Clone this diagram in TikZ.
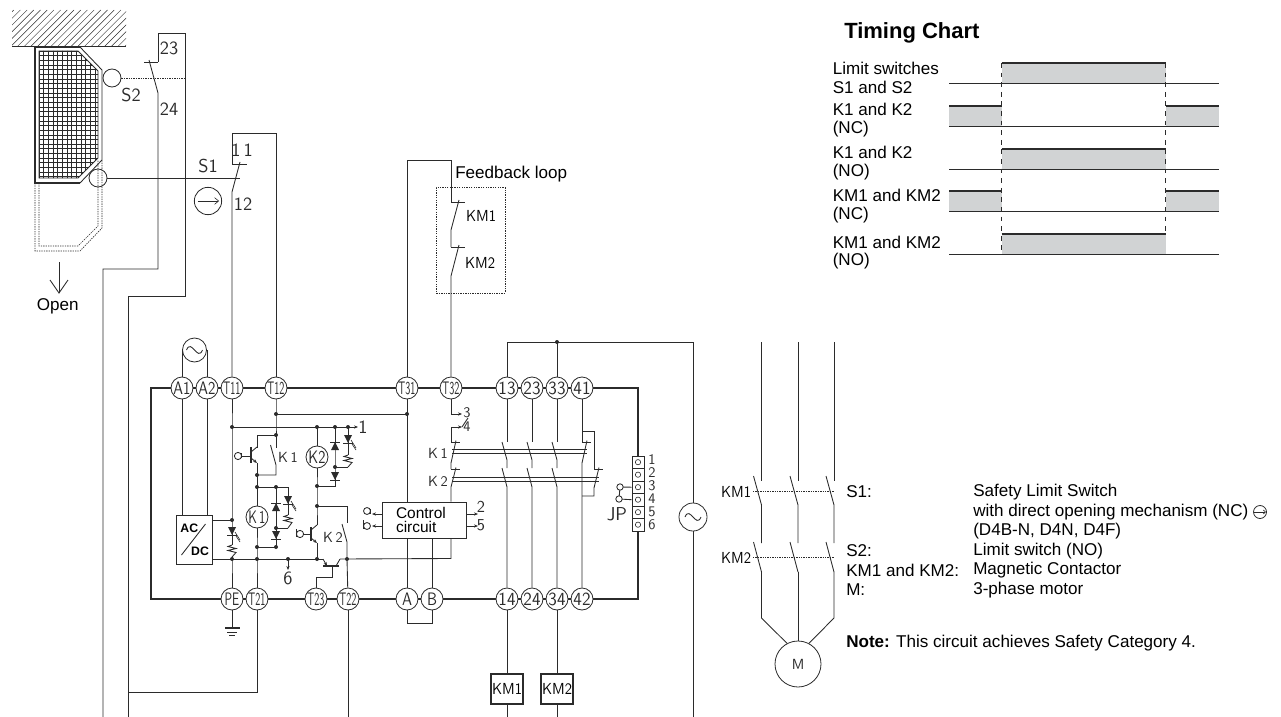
\documentclass[tikz,border=0pt]{standalone}
\usepackage{fontspec}
\setmainfont{Liberation Sans}
\usetikzlibrary{arrows.meta,calc}
\definecolor{ink}{HTML}{2b2b2b}
\definecolor{band}{HTML}{D1D3D4}
\tikzset{
  wire/.style={draw=ink,line width=0.65pt},
  frame/.style={draw=ink,line width=1.05pt},
  thin wire/.style={draw=ink,line width=0.45pt},
  hair/.style={draw=ink,line width=0.3pt},
  dotline/.style={draw=ink,line width=0.5pt,dash pattern=on 1pt off 0.8pt},
  term/.style={circle,draw=ink,fill=white,line width=0.6pt,minimum size=16.5pt,inner sep=0pt,font=\sffamily\fontsize{13}{13}\selectfont,text=ink},
  lab/.style={inner sep=0pt,font=\sffamily\fontsize{14}{14}\selectfont,text=ink},
  klab/.style={inner sep=0pt,font=\sffamily\fontsize{11}{11}\selectfont,text=ink},
  txt/.style={inner sep=0pt,anchor=west,font=\fontsize{12.8}{13}\selectfont,text=black},
  arr/.style={-{Stealth[length=3pt,width=2.4pt]}},
  coil/.style={circle,draw=ink,fill=white,line width=0.6pt,minimum size=16.5pt,inner sep=0pt,text=ink,font=\sffamily\fontsize{13}{13}\selectfont},
  level/.style={draw=ink,line width=0.6pt},
  top/.style={draw=ink,line width=1.5pt},
  guide/.style={draw=ink,line width=0.45pt,dash pattern=on 3.6pt off 3.6pt}
}
\newcommand{\kmtext}[1]{\resizebox{22.5pt}{8.3pt}{\sffamily #1}}
\newcommand{\jdot}[1]{\fill[ink] (#1) circle [radius=1.5pt];}
\newcommand{\diodeshape}[3]{\fill[ink] ({#1-4},{#2-4*#3}) -- ({#1+4},{#2-4*#3}) -- (#1,{#2+4*#3}) -- cycle; \draw[wire] ({#1-5},{#2+4*#3}) -- ({#1+5},{#2+4*#3});}
\newcommand{\ledtail}[2]{\draw[thin wire] ({#1+3},{#2+1}) -- ({#1+8},{#2+9}); \draw[thin wire] ({#1+4},{#2+5}) -- ({#1+8},{#2+11});}
\newcommand{\resist}[3]{\draw[wire] (#1,#2) -- ({#1-4},{#2+1.5}) -- ({#1+4},{#2+3.5}) -- ({#1-4},{#2+5.5}) -- ({#1+4},{#2+7.5}) -- (#1,#3);}
\newcommand{\sine}[2]{\draw[wire] ({#1-8},#2) .. controls ({#1-3},{#2-12}) and ({#1+3},{#2+12}) .. ({#1+8},#2);}
\begin{document}
\begin{tikzpicture}[x=0.75pt,y=-0.75pt]
\useasboundingbox (0,0) rectangle (1281,717);
% ---------- door and hatch
\begin{scope}
\clip (12,10) rectangle (126,47);
\foreach \i in {-30,-23.3,...,130}{\draw[hair,line width=0.35pt] (\i,47) -- ({\i+37},10);}
\end{scope}
\draw[frame] (12,46.5) -- (126,46.5);
\begin{scope}
\clip (39,51) -- (78,51) -- (98,71) -- (98,158) -- (78,178) -- (39,178) -- cycle;
\foreach \i in {0,...,13}{\draw[hair] ({39+4.65*\i},50) -- ({39+4.65*\i},180);}
\foreach \i in {0,...,27}{\draw[hair] (38,{51+4.65*\i}) -- (100,{51+4.65*\i});}
\end{scope}
\draw[wire] (39,51) -- (78,51) -- (98,71) -- (98,158) -- (78,178) -- (39,178) -- cycle;
\draw[frame] (80,47) -- (35,47) -- (35,183) -- (80,183);
\draw[wire] (80,47) -- (102,70) -- (102,160) -- (80,183);
\draw[dotline] (35,183) -- (35,251) -- (80,251) -- (102,228) -- (102,160);
\draw[dotline] (39,183) -- (39,246) -- (78,246) -- (98,226) -- (98,160);
\node[circle,draw=ink,line width=0.6pt,minimum size=13.5pt,inner sep=0pt] (s2c) at (112,78) {};
\node[circle,draw=ink,line width=0.6pt,minimum size=13.5pt,inner sep=0pt] (s1c) at (98,178) {};
\node[lab] (s2t) at (131,95) {S2};
\node[lab] (s1t) at (208,166) {S1};
\node[lab] (t23) at (169,48) {23};
\node[lab] (t24) at (169,109) {24};
\node[lab] (t11) at (242,150) {1\,1};
\node[lab] (t12) at (243,204) {12};
\node[circle,draw=ink,line width=0.6pt,minimum size=20.5pt,inner sep=0pt] (s1dir) at (208,201) {};
\draw[thin wire,-{Straight Barb[length=3pt,width=5pt]}] ($(s1dir.west)+(4,0)$) -- ($(s1dir.east)+(-3,0)$);
\coordinate (c23a) at (158,33); \coordinate (c23b) at (185,33); \coordinate (c23t) at (158,62);
\coordinate (c24) at (158,93); \coordinate (c11t) at (232,164); \coordinate (c12) at (232,192);
\draw[wire] (c23t) -- (c23a) -- (c23b) -- (185,296) -- (128,296) -- (128,717);
\draw[wire] (144,62) -- (c23t);
\draw[wire] (149,60) -- (c24) -- (158,269) -- (103,269) -- (103,717);
\draw[dotline] (s2c.east) -- (185,78);
\draw[wire] (s1c.east) -- (240,178);
% open arrow
\node[txt] (open) at (36.5,306) {Open};
\coordinate (oa) at (59,262); \coordinate (ob) at (59,293);
\draw[wire] (oa) -- (ob); \draw[wire] (50,280) -- (ob) -- (68,280);
% ---------- main frame
\foreach \n/\x/\l/\w in {A1/182/A1/12.8,A2/207/A2/12.8,T11/232/T11/12.8,T12/276/T12/12.8,T31/407/T31/12.8,T32/451/T32/12.8,P13/507/13/12.8,P23/532/23/12.8,P33/557/33/12.8,P41/582/41/12.8}
  {\node[term] (\n) at (\x,388) {\resizebox{\w pt}{9.4pt}{\l}};}
\foreach \n/\x/\l/\w in {PE/232/PE/11,T21/257/T21/12.8,T23/316/T23/12.8,T22/348/T22/12.8,A/407/A/7.5,B/432/B/7.5,P14/507/14/12.8,P24/532/24/12.8,P34/557/34/12.8,P42/582/42/12.8}
  {\node[term] (\n) at (\x,599) {\resizebox{\w pt}{9.4pt}{\l}};}
\coordinate (frNW) at (151,388); \coordinate (frNE) at (638,388);
\coordinate (frSW) at (151,599); \coordinate (frSE) at (638,599);
\foreach \i/\yy in {1/462.2,2/474.7,3/487.2,4/499.7,5/512.2,6/524.7}{
  \node[draw=ink,line width=0.6pt,minimum width=9pt,minimum height=9.4pt,inner sep=0pt,fill=white] (jpc\i) at (638,\yy) {};
  \draw[thin wire] (638,\yy) circle [radius=2pt];
}
\draw[frame] (jpc1.north) -- (frNE) -- (P41);
\draw[frame] (P41) -- (P33); \draw[frame] (P33) -- (P23); \draw[frame] (P23) -- (P13);
\draw[frame] (P13) -- (T32); \draw[frame] (T32) -- (T31); \draw[frame] (T31) -- (T12);
\draw[frame] (T12) -- (T11); \draw[frame] (T11) -- (A2); \draw[frame] (A2) -- (A1);
\draw[frame] (A1) -- (frNW) -- (frSW) -- (PE);
\draw[frame] (PE) -- (T21); \draw[frame] (T21) -- (T23); \draw[frame] (T23) -- (T22); \draw[frame] (T22) -- (A);
\draw[frame] (A) -- (B); \draw[frame] (B) -- (P14); \draw[frame] (P14) -- (P24); \draw[frame] (P24) -- (P34);
\draw[frame] (P34) -- (P42); \draw[frame] (P42) -- (frSE) -- (jpc6.south);
% supply to A1/A2
\node[circle,draw=ink,line width=0.6pt,minimum size=18pt,inner sep=0pt] (src1) at (194.5,350) {};
\sine{194.5}{350}
\draw[wire] (A1) |- (src1.west);
\draw[wire] (A2) |- (src1.east);
% S1 wiring
\draw[wire] (c11t) -- (232,133) coordinate (c11a) -- (276,133) coordinate (c11b) -- (T12);
\draw[wire] (c11t) -- (247,164);
\draw[wire] (240,162) -- (c12) -- (T11);
% feedback
\node[draw=ink,dash pattern=on 1pt off 0.8pt,line width=0.5pt,minimum width=51.4pt,minimum height=79pt,inner sep=0pt] (fb) at (470.7,240.2) {};
\node[txt] (fbt) at (455,174) {Feedback loop};
\node[inner sep=0pt] (km1t) at (481,216) {\kmtext{KM1}};
\node[inner sep=0pt] (km2t) at (480,263) {\kmtext{KM2}};
\coordinate (fbA) at (451,202); \coordinate (fbB) at (451,230); \coordinate (fbC) at (451,247); \coordinate (fbD) at (451,276);
\draw[wire] (T31) -- (407,160.5) -- (451,160.5) -- (fbA);
\draw[wire] (fbA) -- (465,202); \draw[wire] (459,200) -- (fbB) -- (fbC);
\draw[wire] (fbC) -- (465,247); \draw[wire] (459,245) -- (fbD) -- (T32);
% power bus
\coordinate (bus) at (557,342); \coordinate (busR) at (693,342); \coordinate (busL) at (507,342);
\node[circle,draw=ink,fill=white,line width=0.6pt,minimum size=21pt,inner sep=0pt] (src2) at (693,517) {};
\sine{693}{517}
\draw[wire] (P13) -- (busL) -- (busR) -- (src2.north);
\draw[wire] (P33) -- (bus); \jdot{bus}
\draw[wire] (src2.south) -- (693,717);
% AC/DC
\node[draw=ink,line width=0.7pt,minimum width=27pt,minimum height=36.75pt,inner sep=0pt] (acdc) at (194,539.5) {};
\node[inner sep=0pt,font=\bfseries\fontsize{9.2}{9}\selectfont] (ac) at (189.3,528) {AC};
\node[inner sep=0pt,font=\bfseries\fontsize{9.2}{9}\selectfont] (dc) at (200,551) {DC};
\draw[wire] (181.5,555) -- (205.5,524);
\draw[wire] (A1) -- (A1|-acdc.north);
\draw[wire] (A2) -- (A2|-acdc.north);
% T11 rail
\coordinate (r1) at (232,427); \coordinate (ledin) at (232,520); \coordinate (r3) at (232,559);
\coordinate (rt1) at (317,427); \coordinate (rt2) at (335,427); \coordinate (rt3) at (348,427); \coordinate (rtE) at (358,427);
\draw[wire] (T11) -- (r1) -- (ledin) -- (232,545);
\draw[wire] (232,557) -- (r3) -- (PE);
\draw[wire] (ledin) -- (212,520);
\draw[wire,arr] (r1) -- (rtE);
\node[lab] (o1) at (363,427) {1};
\resist{232}{545}{557}
\diodeshape{232}{531}{1}
\ledtail{232}{531}
% rail 2
\coordinate (u1) at (276,414); \coordinate (u2) at (407,414);
\draw[wire] (T12) -- (u1) -- (276,448);
\draw[wire] (u1) -- (u2); 
\coordinate (u3) at (276,435); \coordinate (u4) at (257,435);
\draw[wire] (u3) -- (u4) -- (257,448);
\draw[wire] (270.5,445) -- (276,465) -- (276,475) -- (257,475);
% K1 transistor
\draw[line width=1pt,ink] (251,447) -- (251,463);
\draw[wire] (257,447) -- (251,452);
\draw[wire,arr] (251,458) -- (257,463);
\draw[wire] (257,463) -- (257,487);
\draw[wire] (241.5,456) -- (251,456);
\draw[wire] (238,456) circle [radius=2.7pt];
\draw[thin wire] (241.5,453) -- (241.5,458);
\node[klab] (k1l) at (288,457) {K\,1};
% K1 coil branch
\node[coil] (K1c) at (257,517) {\resizebox{12.8pt}{9.4pt}{K\,1}};
\coordinate (j1) at (257,487); \coordinate (j2) at (276,487); \coordinate (j3) at (288,487);
\coordinate (j4) at (257,547); \coordinate (j5) at (276,547); \coordinate (j6) at (276,528); \coordinate (j7) at (288,528);
\draw[wire] (j1) -- (K1c.north); \draw[wire] (K1c.south) -- (j4) -- (257,559) -- (T21);
\draw[wire] (j1) -- (j3) -- (288,515);
\draw[wire] (j2) -- (j5) -- (j4);
\draw[wire] (j6) -- (j7);
\resist{288}{515}{528}
\diodeshape{276}{507}{-1}
\diodeshape{276}{535}{1}
\diodeshape{288}{500}{1}
\ledtail{288}{500}
% K2 coil branch
\node[coil] (K2c) at (317,457) {\resizebox{12.8pt}{9.4pt}{K2}};
\coordinate (m1) at (317,486); \coordinate (m2) at (335,486); \coordinate (m3) at (335,467); \coordinate (m4) at (348,467);
\coordinate (m5) at (317,506); \coordinate (m6) at (347,506);
\draw[wire] (rt1) -- (K2c.north); \draw[wire] (K2c.south) -- (m1) -- (m5) -- (317,525);
\draw[wire] (rt2) -- (m3) -- (m2) -- (m1);
\draw[wire] (rt3) -- (348,455);
\resist{348}{455}{467}
\draw[wire] (m3) -- (m4);
\draw[wire] (m5) -- (m6) -- (347,523);
\draw[wire] (342,524) -- (347,542) -- (347,559);
\diodeshape{335}{446}{-1}
\diodeshape{335}{476}{1}
\diodeshape{348}{439}{1}
\ledtail{348}{439}
\node[klab] (k2l) at (333,537) {K\,2};
% K2 transistor
\draw[line width=1pt,ink] (311,527) -- (311,541);
\draw[wire] (317,525) -- (311,530);
\draw[wire,arr] (311,538) -- (317,543);
\draw[wire] (317,543) -- (317,559);
\draw[wire] (303.5,534) -- (311,534);
\draw[wire] (300,534) circle [radius=2.7pt];
\draw[thin wire] (296.5,529) -- (296.5,537);
% bottom rail
\node[draw=ink,line width=0.65pt,fill=white,minimum width=63pt,minimum height=27pt,inner sep=0pt] (ctrl) at (424,520) {};
\node[txt,anchor=center,font=\fontsize{11.6}{11}\selectfont,align=left] (ctrlt) at (421,520) {Control\\circuit};
\coordinate (b1) at (212,559); \coordinate (b2) at (288,559); \coordinate (b3) at (451,558.5);
\draw[wire] (b1) -- (323,559);
\draw[wire] (340,559) -- (b3) -- (b3|-ctrl.south);
\draw[line width=1pt,ink] (323,566) -- (339,566);
\draw[wire,arr] (323,559) -- (327,566);
\draw[wire] (340,559) -- (336,566);
\coordinate (t23j) at (332,577);
\draw[wire] (332,566) -- (t23j) -- (316,577) -- (T23);
\draw[wire] (347,559) -- (T22);
\draw[wire,arr] (b2) -- (288,570);
\node[lab] (o6) at (288,578) {6};
\foreach \c in {r1,rt1,rt2,rt3,u1,u2,u3,j1,j2,j4,j5,j6,m1,m3,m5,ledin,r3,b2}{\jdot{\c}}
\jdot{257,475}\jdot{257,559}\jdot{317,559}\jdot{347,559}
% T31 / A / B
\draw[wire] (T31) -- (T31|-ctrl.north);
\draw[wire] (A|-ctrl.south) -- (A);
\draw[wire] (B|-ctrl.south) -- (B);
\coordinate (ab1) at (407,623); \coordinate (ab2) at (432,623);
\draw[wire] (A) -- (ab1) -- (ab2) -- (B);
% control arrows
\draw[wire,arr] (382,514) -- (372,514);
\draw[wire,arr] (382,526) -- (372,526);
\draw[wire,arr] (ctrl.east|-0,514) -- (478,514);
\draw[wire,arr] (ctrl.east|-0,526) -- (478,526);
\draw[wire] (367,511) circle [radius=2.6pt]; \draw[wire] (370.5,509) -- (370.5,514);
\draw[wire] (367,526) circle [radius=2.6pt]; \draw[wire] (363.5,520) -- (363.5,529);
\node[lab,font=\sffamily\fontsize{12.5}{12.5}\selectfont] (o2) at (481,507) {2};
\node[lab,font=\sffamily\fontsize{12.5}{12.5}\selectfont] (o5) at (481,525) {5};
% T32 chain
\coordinate (v1) at (451,414); \coordinate (v2) at (451,427); \coordinate (v3) at (451,442); \coordinate (v4) at (451,463);
\coordinate (v5) at (451,469); \coordinate (v6) at (451,487);
\draw[wire,arr] (T32) -- (v1) -- (462,414);
\draw[wire,arr] (v3) -- (v2) -- (462,427);
\draw[wire] (468,418) -- (462,427);
\node[lab,font=\sffamily\fontsize{11}{11}\selectfont] (o3) at (467,412.5) {3};
\node[lab,font=\sffamily\fontsize{11}{11}\selectfont] (o4) at (467,427) {4};
\draw[wire] (v3) -- (460,442); \draw[wire] (456,440.5) -- (v4) -- (v5);
\draw[wire] (v5) -- (460,469); \draw[wire] (456,467.5) -- (v6) -- (v6|-ctrl.north);
\node[klab] (k1r) at (438,453) {K\,1};
\node[klab] (k2r) at (438,481) {K\,2};
% contacts
\foreach \n/\m in {P13/P14,P23/P24,P33/P34}{
  \draw[wire] (\n) -- (\n|-0,442);
  \draw[wire] ($(\n|-0,442)+(-5,0)$) -- (\n|-0,460) -- (\n|-0,468);
  \draw[wire] ($(\n|-0,468)+(-5,0)$) -- (\n|-0,487) -- (\m);
}
\coordinate (w1) at (582,431); \coordinate (w2) at (594,431); \coordinate (w3) at (594,469);
\coordinate (w4) at (594,488); \coordinate (w5) at (594,496); \coordinate (w6) at (582,496);
\draw[wire] (P41) -- (582,442);
\draw[wire] (582,442) -- (591,442); \draw[wire] (587,440.5) -- (582,463) -- (P42);
\draw[wire] (w1) -- (w2) -- (w3);
\draw[wire] (w3) -- (603,469); \draw[wire] (599,467.5) -- (w4) -- (w5) -- (w6);
\draw[wire] (452,449) -- (587,449); \draw[wire] (452,453.5) -- (587,453.5);
\draw[wire] (452,477) -- (599,477); \draw[wire] (452,481) -- (599,481);
% JP strip labels
\foreach \d/\yy in {1/460,2/473,3/486,4/499,5/512,6/525}{
  \node[lab,font=\sffamily\fontsize{11}{11}\selectfont] (jn\d) at (652,\yy) {\d};
}
\node[lab] (jpt) at (617,514) {JP};
\coordinate (jj3) at (620,487); \coordinate (jj4) at (619,499);
\draw[wire] (jpc3.west) -- (jj3); \draw[wire] (jpc4.west) -- (jj4);
\draw[wire] (jj3) -- (jj4);
\draw[wire,fill=white] (jj3) circle [radius=2.4pt]; \draw[wire,fill=white] (jj4) circle [radius=2.4pt];
% PE / T21 / bottom wires
\coordinate (gnd) at (232,628);
\draw[wire] (PE) -- (gnd);
\draw[line width=1.2pt,ink] (225,628) -- (240,628);
\draw[wire] (227,632) -- (237,632);
\draw[wire] (229,635.5) -- (235,635.5);
\draw[wire] (T21) -- (257,692) -- (128,692);
\draw[wire] (T22) -- (348,717);
\node[draw=ink,line width=0.9pt,fill=white,minimum width=24pt,minimum height=22.5pt,inner sep=0pt] (KM1b) at (507,689) {\kmtext{KM1}};
\node[draw=ink,line width=0.9pt,fill=white,minimum width=24pt,minimum height=22.5pt,inner sep=0pt] (KM2b) at (557,689) {\kmtext{KM2}};
\draw[wire] (P14) -- (KM1b); \draw[wire] (KM1b) -- (507,717);
\draw[wire] (P34) -- (KM2b); \draw[wire] (KM2b) -- (557,717);
% motor
\node[circle,draw=ink,line width=0.6pt,minimum size=34.5pt,inner sep=0pt,font=\sffamily\fontsize{11}{11}\selectfont,text=ink] (mot) at (798,664) {M};
\foreach \x in {761.5,798,834}{
  \draw[wire] (\x,342) -- (\x,481);
  \draw[wire] ({\x-8},476) -- (\x,505) -- (\x,543);
  \draw[wire] ({\x-8},542) -- (\x,572);
}
\draw[wire] (761.5,572) -- (761.5,618) -- (mot.118);
\draw[wire] (798,572) -- (mot.north);
\draw[wire] (834,572) -- (834,618) -- (mot.62);
\draw[dotline] (753,491) -- (834,491);
\draw[dotline] (753,557) -- (834,557);
\node[inner sep=0pt] (mk1) at (736,491.5) {\kmtext{KM1}};
\node[inner sep=0pt] (mk2) at (736,558) {\kmtext{KM2}};
% timing chart
\node[txt,font=\bfseries\fontsize{16.5}{17}\selectfont] (tc) at (844,33) {Timing Chart};
\foreach \t/\yy in {Limit switches/68,S1 and S2/87,K1 and K2/109,(NC)/129,K1 and K2/152,(NO)/172,KM1 and KM2/195,(NC)/215,KM1 and KM2/242,(NO)/261}
  {\node[txt] at (832.5,\yy) {\t};}
\coordinate (g1) at (1001.7,63); \coordinate (g2) at (1165.7,63);
\fill[band] (1001.7,63.3) rectangle (1165.7,83.7);
\fill[band] (949,106) rectangle (1001.7,126.3); \fill[band] (1165.7,106) rectangle (1219,126.3);
\fill[band] (1001.7,148.7) rectangle (1165.7,169);
\fill[band] (949,191.3) rectangle (1001.7,211.7); \fill[band] (1165.7,191.3) rectangle (1219,211.7);
\fill[band] (1001.7,234.3) rectangle (1165.7,254.3);
\foreach \yy in {83.7,126.3,169,211.7,254.3}{\draw[level] (949,\yy) -- (1219,\yy);}
\draw[top] (1001.7,63.3) -- (1165.7,63.3);
\draw[top] (949,106) -- (1001.7,106); \draw[top] (1165.7,106) -- (1219,106);
\draw[top] (1001.7,148.7) -- (1165.7,148.7);
\draw[top] (949,191.3) -- (1001.7,191.3); \draw[top] (1165.7,191.3) -- (1219,191.3);
\draw[top] (1001.7,234.3) -- (1165.7,234.3);
\draw[guide] (g1) -- (1001.7,254); \draw[guide] (g2) -- (1165.7,234);
% legend
\foreach \a/\yy in {S1:/492,S2:/551,KM1 and KM2:/570,M:/590}{\node[txt] at (846,\yy) {\a};}
\node[txt] (l1) at (973,492) {Safety Limit Switch};
\node[txt] (l2) at (973,512) {with direct opening mechanism (NC)};
\node[txt] (l3) at (973,531) {(D4B-N, D4N, D4F)};
\node[txt] (l4) at (973,551) {Limit switch (NO)};
\node[txt] (l5) at (973,570) {Magnetic Contactor};
\node[txt] (l6) at (973,590) {3-phase motor};
\node[circle,draw=ink,line width=0.6pt,minimum size=9.75pt,inner sep=0pt] (dop) at (1260,512) {};
\draw[thin wire,-{Straight Barb[length=1.6pt,width=3pt]}] ($(dop.west)+(1,0)$) -- ($(dop.east)+(-1,0)$);
\node[txt] (note) at (846,643) {\textbf{Note:} This circuit achieves Safety Category 4.};
\end{tikzpicture}
\end{document}
